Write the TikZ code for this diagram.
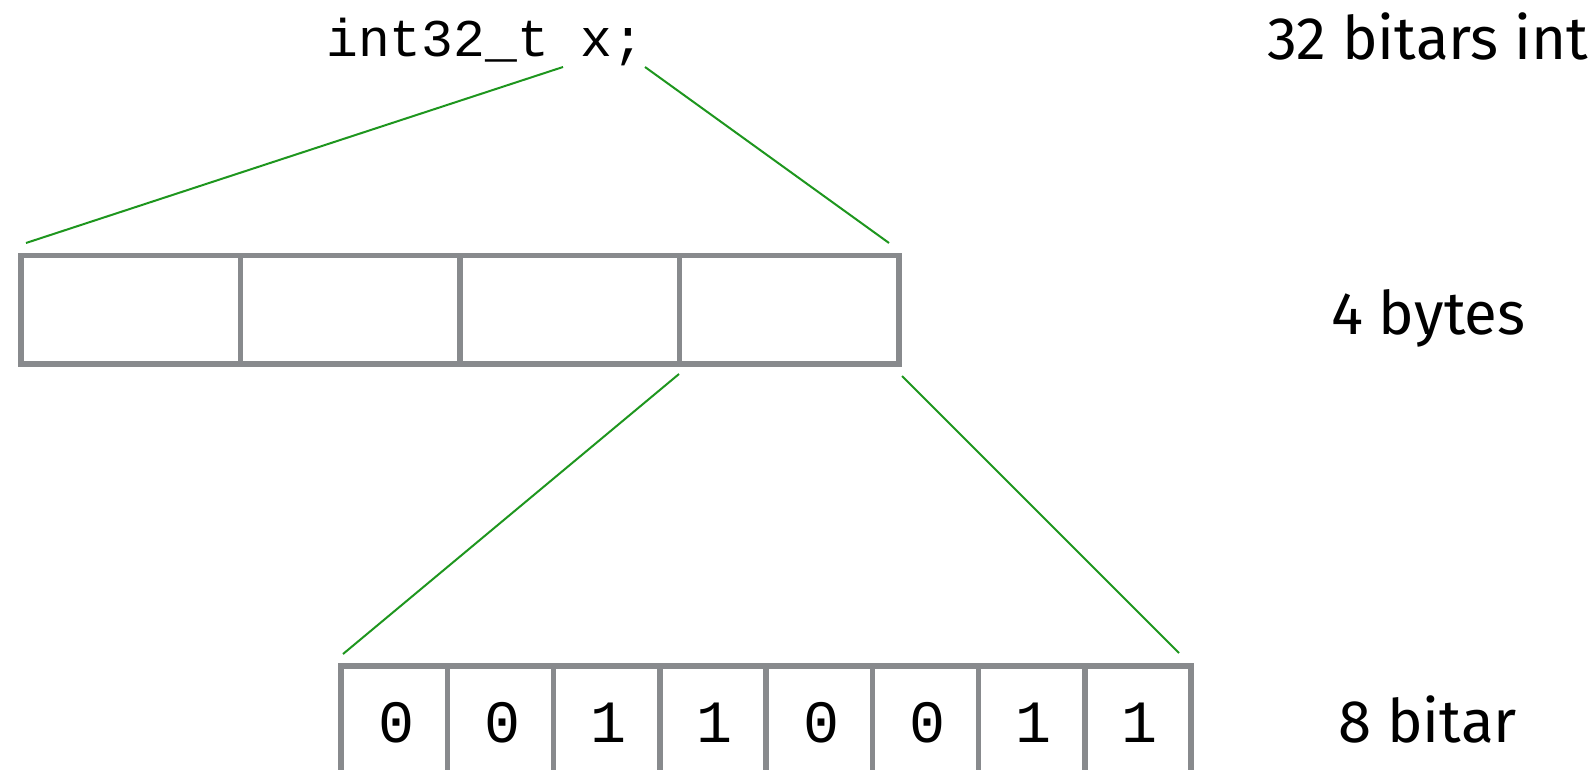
\documentclass[tikz,border=0pt]{standalone}
\usepackage{fontspec}
\usetikzlibrary{calc}
\setmainfont{Fira Sans}
\newfontfamily\monof{Liberation Mono}
\definecolor{boxgray}{RGB}{136,138,141}
\definecolor{linkgreen}{RGB}{30,150,30}
\begin{document}
\begin{tikzpicture}[x=1pt,y=-1pt,
  bytecell/.style={draw=boxgray,line width=5.5pt,inner sep=0pt,outer sep=0pt,minimum width=219.5pt,minimum height=108.5pt},
  bitcell/.style={draw=boxgray,line width=5.5pt,inner sep=0pt,outer sep=0pt,minimum width=106.25pt,minimum height=130pt},
  bitdigit/.style={font=\monof\fontsize{60}{60}\selectfont,anchor=base,inner sep=0pt},
  codetext/.style={font=\monof\fontsize{53}{53}\selectfont,anchor=base west,inner sep=0pt},
  label/.style={font=\fontsize{60}{60}\selectfont,anchor=base west,inner sep=0pt},
  link/.style={draw=linkgreen,line width=2pt}]
\clip (0,0) rectangle (1594,770);
\useasboundingbox (0,0) rectangle (1594,770);
% code
\node[codetext] (code) at (326,57) {int32\_t x;};
% labels
\node[label] (lint) at (1267,60) {32 bitars int};
\node[label] (lbytes) at (1331,334) {4 bytes};
\node[label] (lbits) at (1338,742) {8 bitar};
% bytes
\foreach \i in {1,...,4}{
  \node[bytecell] (byte\i) at ({21+219.5*(\i-0.5)},309.75) {};
}
% bits
\foreach \i/\v in {1/0,2/0,3/1,4/1,5/0,6/0,7/1,8/1}{
  \node[bitcell] (bit\i) at ({341+106.25*(\i-0.5)},731) {};
  \node[bitdigit] (d\i) at ({343+106.25*(\i-0.5)},742) {\v};
}
% connector ends
\coordinate (c1) at (563,67);
\coordinate (c2) at (645,67);
\coordinate (b1) at ($(byte1.north west)+(5,-12.5)$);
\coordinate (b4) at ($(byte4.north east)+(-10,-12.5)$);
\coordinate (s1) at ($(byte4.south west)+(-0.5,10)$);
\coordinate (s2) at ($(byte4.south east)+(3,12)$);
\coordinate (t1) at ($(bit1.north west)+(2,-12)$);
\coordinate (t2) at ($(bit8.north east)+(-12,-13)$);
\draw[link] (c1) -- (b1);
\draw[link] (c2) -- (b4);
\draw[link] (s1) -- (t1);
\draw[link] (s2) -- (t2);
\end{tikzpicture}
\end{document}
